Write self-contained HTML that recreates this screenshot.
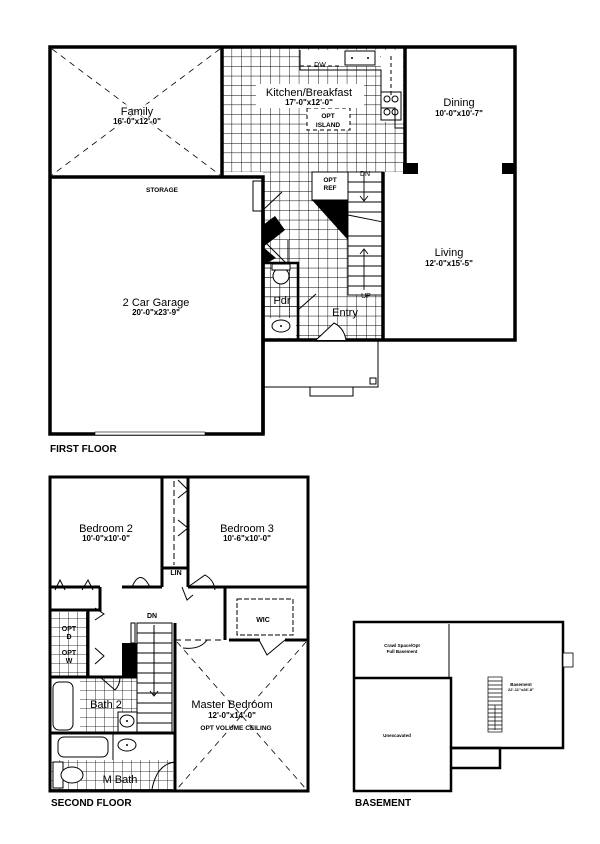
<!DOCTYPE html>
<html><head><meta charset="utf-8"><style>
html,body{margin:0;padding:0;background:#fff;}
svg{display:block;}
text{font-family:"Liberation Sans",Arial,sans-serif;fill:#000;}
.d{font-weight:bold;}
</style></head><body>
<svg width="600" height="844" viewBox="0 0 600 844" xmlns="http://www.w3.org/2000/svg">
<defs>
<pattern id="g" x="222" y="47" width="9.6" height="9.6" patternUnits="userSpaceOnUse">
<path d="M0 0H9.6M0 0V9.6" stroke="#000" stroke-width="0.9" fill="none"/>
</pattern>
<pattern id="g2" x="50" y="600" width="9" height="9" patternUnits="userSpaceOnUse">
<path d="M0 0H9M0 0V9" stroke="#000" stroke-width="0.8" fill="none"/>
</pattern>
</defs>
<rect width="600" height="844" fill="#fff"/>

<!-- ========== FIRST FLOOR ========== -->
<rect x="222" y="47" width="183" height="125" fill="url(#g)"/>
<rect x="263" y="172" width="120" height="168" fill="url(#g)"/>
<rect x="300" y="50" width="80" height="16" fill="#fff"/>
<rect x="381" y="50" width="22" height="72" fill="#fff"/>
<rect x="307" y="108" width="43" height="22" fill="#fff"/>
<rect x="348" y="172" width="35" height="123" fill="#fff"/>
<rect x="312" y="172" width="36" height="28" fill="#fff"/>
<rect x="263" y="263" width="35" height="77" fill="url(#g)"/>
<rect x="264" y="318" width="32" height="20" fill="#fff"/>

<g stroke="#000" stroke-width="0.8" stroke-dasharray="6,5" fill="none">
<line x1="52" y1="49" x2="220" y2="175"/>
<line x1="220" y1="49" x2="52" y2="175"/>
</g>

<g fill="none" stroke="#000" stroke-width="3.5">
<path d="M50 47 H515 V340 H263 V434 H50 Z"/>
<path d="M50 177 H263 V434"/>
<path d="M405 47 V172"/>
<path d="M383 172 V340"/>
<path d="M222 47 V177"/>
<path d="M263 210 V340"/>
</g>
<rect x="403" y="163" width="15" height="11" fill="#000"/>
<rect x="502" y="163" width="13" height="11" fill="#000"/>
<g fill="none" stroke="#000" stroke-width="1">
<path d="M300 50 V70 H381 V108 H395 V128 H405"/>
<rect x="345" y="51" width="30" height="14"/>
<rect x="381" y="92" width="20" height="28"/>
<circle cx="387" cy="99" r="3"/><circle cx="395" cy="99" r="3"/>
<circle cx="387" cy="112" r="3"/><circle cx="395" cy="112" r="3"/>
</g>
<g fill="none" stroke="#000" stroke-width="1" stroke-dasharray="4,3">
<rect x="307" y="108" width="43" height="22"/>
<path d="M300 66 H340 M391 56 V95"/>
</g>
<text x="320" y="67" font-size="7" text-anchor="middle">DW</text>
<circle cx="352" cy="58" r="1" fill="#000"/><circle cx="368" cy="58" r="1" fill="#000"/>

<rect x="312" y="172" width="36" height="28" fill="none" stroke="#000" stroke-width="1"/>
<polygon points="312,200 348,200 348,240" fill="#000"/>
<text x="330" y="182" font-size="6.5" text-anchor="middle" font-weight="bold">OPT</text>
<text x="330" y="190" font-size="6.5" text-anchor="middle" font-weight="bold">REF</text>

<g stroke="#000" stroke-width="0.9" fill="none">
<rect x="348" y="172" width="35" height="123"/>
<path d="M348 236 H383 M348 246 H383 M348 256 H383 M348 266 H383 M348 276 H383 M348 286 H383"/>
<path d="M348 182 H383 M348 192 H383 M348 202 H383 M348 212 H383"/>
<path d="M348 215 L383 222"/>
<path d="M364 172 V200 M360 196 L364 201 L368 196"/>
<path d="M364 290 V250 M360 254 L364 249 L368 254"/>
</g>
<text x="365" y="176" font-size="7" text-anchor="middle">DN</text>
<text x="366" y="298" font-size="7" text-anchor="middle">UP</text>

<g stroke="#000" fill="none" stroke-width="1">
<rect x="253" y="181" width="9" height="30"/>
<path d="M263 210 L282 192"/>
<path d="M263 240 L288 265 V240"/>
</g>
<polygon points="263,225 275,216 285,230 275,238 263,247" fill="#000"/>
<polygon points="263,247 276,258 263,265" fill="#000"/>
<path d="M263 263 H298 V340" stroke="#000" stroke-width="2.5" fill="none"/>
<ellipse cx="281" cy="276" rx="8" ry="8" fill="#fff" stroke="#000"/>
<rect x="272" y="264" width="18" height="6" fill="#fff" stroke="#000"/>
<ellipse cx="281" cy="326" rx="9" ry="6" fill="#fff" stroke="#000"/>
<circle cx="281" cy="326" r="1" fill="#000"/>
<path d="M298 310 L316 294" stroke="#000"/>
<path d="M316 340 L334 323 Q344 328 346 340" stroke="#000" fill="#fff"/>

<g stroke="#000" stroke-width="1" fill="none">
<path d="M263 387 H378 V340"/>
<rect x="310" y="387" width="43" height="9"/>
<rect x="370" y="378" width="6" height="6"/>
</g>
<rect x="95" y="432" width="110" height="3" fill="#fff" stroke="#000" stroke-width="0.6"/>

<rect x="112" y="104" width="52" height="22" fill="#fff" opacity="0.6"/>
<text x="137" y="115" font-size="11" text-anchor="middle">Family</text>
<text x="137" y="124" font-size="8" text-anchor="middle" class="d">16'-0"x12'-0"</text>
<rect x="256" y="84" width="108" height="24" fill="#fff"/>
<text x="309" y="96" font-size="11" text-anchor="middle">Kitchen/Breakfast</text>
<text x="309" y="105" font-size="8" text-anchor="middle" class="d">17'-0"x12'-0"</text>
<text x="328" y="118" font-size="6.5" text-anchor="middle" font-weight="bold">OPT</text>
<text x="328" y="127" font-size="6.5" text-anchor="middle" font-weight="bold">ISLAND</text>
<text x="459" y="106" font-size="11" text-anchor="middle">Dining</text>
<text x="459" y="116" font-size="8" text-anchor="middle" class="d">10'-0"x10'-7"</text>
<text x="449" y="256" font-size="11" text-anchor="middle">Living</text>
<text x="449" y="266" font-size="8" text-anchor="middle" class="d">12'-0"x15'-5"</text>
<text x="162" y="192" font-size="6.5" text-anchor="middle" font-weight="bold">STORAGE</text>
<text x="156" y="306" font-size="11" text-anchor="middle">2 Car Garage</text>
<text x="156" y="315" font-size="8" text-anchor="middle" class="d">20'-0"x23'-9"</text>
<text x="282" y="304" font-size="11" text-anchor="middle">Pdr</text>
<text x="345" y="316" font-size="11" text-anchor="middle">Entry</text>
<text x="50" y="452" font-size="10" font-weight="bold">FIRST FLOOR</text>

<!-- ========== SECOND FLOOR ========== -->
<rect x="50" y="612" width="38" height="64" fill="url(#g2)"/>
<rect x="80" y="677" width="57" height="56" fill="url(#g2)"/>
<rect x="50" y="760" width="123" height="31" fill="url(#g2)"/>
<g stroke="#000" stroke-width="0.8" stroke-dasharray="6,5" fill="none">
<line x1="177" y1="642" x2="306" y2="789"/>
<line x1="306" y1="642" x2="177" y2="789"/>
</g>
<g fill="none" stroke="#000" stroke-width="3">
<rect x="50" y="477" width="258" height="314"/>
<path d="M162 477 V587 M188 477 V587 M162 568 H188"/>
<path d="M50 587 H100 M100 587 V610 H50"/>
<path d="M122 587 H162 M188 587 H225 M225 587 V640 M225 587 H308"/>
<path d="M175 623 V791"/>
<path d="M50 677 H137"/>
<path d="M50 733 H175"/>
<path d="M88 610 V677"/>
<path d="M229 640 H260 M285 640 H308"/>
</g>
<g stroke="#000" fill="none" stroke-width="1">
<rect x="237" y="599" width="56" height="36" stroke-dasharray="5,2"/>
<path d="M174 481 V565" stroke-dasharray="6,3"/>
<path d="M178 480 L188 490 L178 498 M178 520 L188 528 L178 536"/>
<path d="M55 590 L60 580 L65 590 M82 590 L88 580 L93 590"/>
<path d="M132 587 Q140 568 150 587 M188 587 L205 575 Q214 580 215 590 M182 587 L187 600 L193 595"/>
<path d="M175 640 H225" stroke-dasharray="6,4"/>
<path d="M183 648 Q200 650 207 640"/>
<path d="M259 640 L267 655 L285 640"/>
<rect x="137" y="623" width="35" height="110"/>
<path d="M137 633 H172 M137 643 H172 M137 653 H172 M137 663 H172 M137 673 H172 M137 683 H172 M137 693 H172 M137 703 H172 M137 713 H172 M137 723 H172"/>
<path d="M154 625 V695 M150 691 L154 696 L158 691"/>
<rect x="131" y="623" width="4" height="20"/>
<rect x="53" y="682" width="20" height="48" rx="6" fill="#fff"/>
<rect x="118" y="712" width="19" height="20" fill="#fff"/>
<ellipse cx="127" cy="721" rx="7" ry="6"/>
<rect x="58" y="737" width="50" height="20" rx="6" fill="#fff"/>
<path d="M113 733 V760"/>
<ellipse cx="127" cy="745" rx="9" ry="6"/>
<rect x="53" y="762" width="10" height="26" fill="#fff"/>
<ellipse cx="72" cy="775" rx="11" ry="8" fill="#fff"/>
<path d="M175 762 Q157 764 152 789"/>
<path d="M95 608 L104 614 L95 620 M95 648 L104 656 L95 664"/>
<path d="M100 677 L115 690 Q120 685 120 677"/>
</g>
<rect x="122" y="643" width="15" height="34" fill="#000"/>
<circle cx="127" cy="745" r="1" fill="#000"/><circle cx="127" cy="721" r="1" fill="#000"/>
<text x="69" y="631" font-size="7" text-anchor="middle" font-weight="bold">OPT</text>
<text x="69" y="639" font-size="7" text-anchor="middle" font-weight="bold">D</text>
<text x="69" y="655" font-size="7" text-anchor="middle" font-weight="bold">OPT</text>
<text x="69" y="663" font-size="7" text-anchor="middle" font-weight="bold">W</text>
<text x="106" y="532" font-size="11" text-anchor="middle">Bedroom 2</text>
<text x="106" y="541" font-size="8" text-anchor="middle" class="d">10'-0"x10'-0"</text>
<text x="247" y="532" font-size="11" text-anchor="middle">Bedroom 3</text>
<text x="247" y="541" font-size="8" text-anchor="middle" class="d">10'-6"x10'-0"</text>
<text x="176" y="575" font-size="7" text-anchor="middle" font-weight="bold">LIN</text>
<text x="152" y="618" font-size="7" text-anchor="middle" font-weight="bold">DN</text>
<text x="263" y="622" font-size="7" text-anchor="middle" font-weight="bold">WIC</text>
<text x="106" y="708" font-size="11" text-anchor="middle">Bath 2</text>
<text x="120" y="783" font-size="11" text-anchor="middle">M Bath</text>
<text x="232" y="708" font-size="11" text-anchor="middle">Master Bedroom</text>
<text x="232" y="718" font-size="8" text-anchor="middle" class="d">12'-0"x14'-0"</text>
<text x="236" y="730" font-size="6.5" text-anchor="middle" font-weight="bold">OPT VOLUME CEILING</text>
<text x="51" y="806" font-size="10" font-weight="bold">SECOND FLOOR</text>

<!-- ========== BASEMENT ========== -->
<g fill="none" stroke="#000" stroke-width="2.5">
<path d="M354 622 H563 V748 H451 V791 H354 Z"/>
<path d="M354 678 H451 V748"/>
<path d="M451 748 H500 V768 H451"/>
</g>
<path d="M449 624 V678" stroke="#000" stroke-width="1"/>
<rect x="563" y="653" width="10" height="14" fill="#fff" stroke="#000" stroke-width="0.8"/>
<g stroke="#000" stroke-width="0.7" fill="none">
<rect x="488" y="677" width="14" height="55"/>
<path d="M488 681 H502 M488 685 H502 M488 689 H502 M488 693 H502 M488 697 H502 M488 701 H502 M488 705 H502 M488 709 H502 M488 713 H502 M488 717 H502 M488 721 H502 M488 725 H502 M488 729 H502"/>
<path d="M495 730 V705"/>
</g>
<text x="402" y="647" font-size="4.5" text-anchor="middle" font-weight="bold">Crawl Space/Opt</text>
<text x="402" y="653" font-size="4.5" text-anchor="middle" font-weight="bold">Full Basement</text>
<text x="397" y="737" font-size="4.5" text-anchor="middle" font-weight="bold">Unexcavated</text>
<text x="521" y="686" font-size="4.5" text-anchor="middle" font-weight="bold">Basement</text>
<text x="521" y="691" font-size="4" text-anchor="middle" font-weight="bold">22'-11"x28'-8"</text>
<text x="355" y="806" font-size="10" font-weight="bold">BASEMENT</text>
</svg>
</body></html>
